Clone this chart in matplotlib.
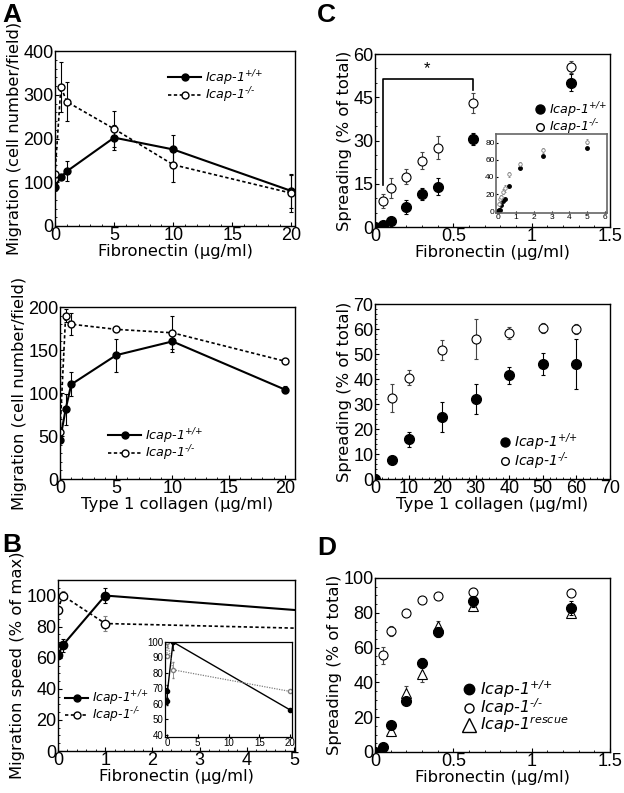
import matplotlib
matplotlib.use("Agg")
import matplotlib.pyplot as plt
from matplotlib.ticker import MultipleLocator, FormatStrFormatter
from matplotlib.lines import Line2D

plt.rcParams['font.family'] = ['Liberation Sans', 'DejaVu Sans']
plt.rcParams['mathtext.fontset'] = 'custom'
plt.rcParams['mathtext.rm'] = 'DejaVu Sans:italic'
plt.rcParams['mathtext.it'] = 'DejaVu Sans:italic'

# ---------------- DATA ----------------
# Panel A top: migration on fibronectin
a1_x = [0, 0.5, 1, 5, 10, 20]
a1_wt = [90, 112, 125, 202, 175, 80]
a1_wt_err = [0, 0, 23, 28, 33, 38]
a1_ko = [120, 318, 284, 222, 140, 75]
a1_ko_err = [0, 57, 45, 42, 40, 42]

# Panel A bottom: migration on collagen
a2_x = [0, 0.5, 1, 5, 10, 20]
a2_wt = [45, 81, 110, 144, 160, 104]
a2_wt_err = [0, 18, 14, 19, 12, 4]
a2_ko = [55, 190, 180, 174, 170, 137]
a2_ko_err = [0, 8, 13, 0, 19, 0]

# Panel B: migration speed (main & inset share data)
b_x = [0, 0.1, 1, 20]
b_wt = [61.5, 68, 100, 56]
b_wt_err = [2, 4, 5, 0]
b_ko = [91, 100, 82, 68]
b_ko_err = [0, 3, 5, 0]

# Panel C top: spreading on fibronectin
c1_x_wt = [0, 0.05, 0.1, 0.2, 0.3, 0.4, 0.625, 1.25]
c1_wt = [0, 0.8, 2, 7, 11.5, 14, 30.5, 50]
c1_wt_err = [0, 0, 0, 2.5, 2, 3, 2, 3]
c1_x_ko = [0.05, 0.1, 0.2, 0.3, 0.4, 0.625, 1.25]
c1_ko = [9, 13.5, 17.5, 23, 27.5, 43, 55.5]
c1_ko_err = [2.5, 3.5, 2.5, 3, 4, 3.5, 2]
# inset C
ci_x_wt = [0, 0.05, 0.1, 0.2, 0.3, 0.4, 0.625, 1.25, 2.5, 5]
ci_wt = [0, 1, 2, 7, 12, 14, 30, 50, 64, 74]
ci_x_ko = [0.05, 0.1, 0.2, 0.3, 0.4, 0.625, 1.25, 2.5, 5]
ci_ko = [9, 14, 17, 23, 27, 43, 55, 71, 81]
ci_ko_err = [2, 3, 2, 3, 4, 3, 2, 3, 3]
c1_sig_x = [0.05, 0.625]
c1_sig_y = [14.5, 51.5, 47.5]

# Panel C bottom: spreading on collagen
c2_x_wt = [0, 5, 10, 20, 30, 40, 50, 60]
c2_wt = [0, 7.5, 16, 25, 32, 41.5, 46, 46]
c2_wt_err = [0, 0, 3, 6, 6, 3.5, 4.5, 10]
c2_x_ko = [5, 10, 20, 30, 40, 50, 60]
c2_ko = [32.5, 40.5, 51.5, 56, 58.5, 60.5, 60]
c2_ko_err = [5.5, 3, 4, 8, 2.5, 2, 2]

# Panel D: spreading with rescue
d_x_wt = [0, 0.05, 0.1, 0.2, 0.3, 0.4, 0.625, 1.25]
d_wt = [0, 2.8, 15.5, 29.5, 51, 69, 86.5, 82.5]
d_wt_err = [0, 0, 2, 1.5, 3, 3, 3, 4]
d_x_ko = [0.05, 0.1, 0.2, 0.3, 0.4, 0.625, 1.25]
d_ko = [55.5, 69.5, 80, 87.5, 89.5, 92, 91.5]
d_ko_err = [5, 3, 2, 1.5, 1.5, 2.5, 2]
d_x_res = [0.1, 0.2, 0.3, 0.4, 0.625, 1.25]
d_res = [12, 34, 45, 72.5, 84, 80]
d_res_err = [3, 4, 5, 3, 3, 2]

LBL_WT = 'Icap-1$^{\\text{+/+}}$'
LBL_KO = 'Icap-1$^{\\text{-/-}}$'
LBL_RES = 'Icap-1$^{\\text{rescue}}$'

W, H = 624, 793
fig = plt.figure(figsize=(W / 100, H / 100), dpi=100)


def add_ax(x0, y0, x1, y1):
    return fig.add_axes([x0 / W, 1 - y1 / H, (x1 - x0) / W, (y1 - y0) / H])


TICK_FS = 13
LAB_FS = 11.8
LEG_FS = 9.2
LAB_FONT = 'DejaVu Sans'
DASH = (0, (2, 1.5))


def style(ax, xmaj, xmin, ymaj, ymin, fmt='%g'):
    ax.xaxis.set_major_locator(MultipleLocator(xmaj))
    ax.xaxis.set_minor_locator(MultipleLocator(xmin))
    ax.yaxis.set_major_locator(MultipleLocator(ymaj))
    ax.yaxis.set_minor_locator(MultipleLocator(ymin))
    ax.xaxis.set_major_formatter(FormatStrFormatter(fmt))
    ax.yaxis.set_major_formatter(FormatStrFormatter('%g'))
    ax.tick_params(which='both', direction='in', top=False, right=False,
                   labelsize=TICK_FS, pad=1)
    ax.tick_params(which='major', length=3, width=0.8)
    ax.tick_params(which='minor', length=1.5, width=0.6)
    for s in ax.spines.values():
        s.set_linewidth(1.0)


def labels(ax, xl, yl):
    ax.set_xlabel(xl, fontsize=LAB_FS, family=LAB_FONT, labelpad=0)
    ax.set_ylabel(yl, fontsize=LAB_FS, family=LAB_FONT, labelpad=1)


def line_leg(ax, anchor, ms=5, hl=2.6, fs=LEG_FS, sp=-0.15):
    hs = [Line2D([], [], color='black', marker='o', ms=ms, lw=1.5, mfc='black'),
          Line2D([], [], color='black', marker='o', ms=ms, lw=1.2, ls=DASH, mfc='white')]
    ax.legend(hs, [LBL_WT, LBL_KO], loc='upper left', bbox_to_anchor=anchor,
              frameon=False, handlelength=hl, labelspacing=sp, handletextpad=0.3,
              borderaxespad=0, borderpad=0,
              prop={'family': LAB_FONT, 'style': 'italic', 'size': fs})


def dot_leg(ax, anchor, fs=LEG_FS, tri=False, ms=6.5, sp=-0.15):
    hs = [Line2D([], [], color='black', marker='o', ms=ms, ls='none', mfc='black'),
          Line2D([], [], color='black', marker='o', ms=ms - 1, ls='none', mfc='white', mew=1)]
    ls = [LBL_WT, LBL_KO]
    if tri:
        hs.append(Line2D([], [], color='black', marker='^', ms=ms + 3, ls='none',
                         mfc='white', mew=1))
        ls.append(LBL_RES)
    ax.legend(hs, ls, loc='upper left', bbox_to_anchor=anchor,
              frameon=False, handlelength=0.8, labelspacing=sp, handletextpad=0.3,
              borderaxespad=0, borderpad=0,
              prop={'family': LAB_FONT, 'style': 'italic', 'size': fs})


eb = dict(capsize=1.5, elinewidth=0.8, capthick=0.8)

# ---------- Panel A top ----------
ax = add_ax(55, 51, 295, 226)
ax.errorbar(a1_x, a1_wt, yerr=a1_wt_err, color='black', marker='o', ms=5,
            lw=1.5, ls='-', mfc='black', **eb)
ax.errorbar(a1_x, a1_ko, yerr=a1_ko_err, color='black', marker='o', ms=5,
            lw=1.2, ls=DASH, mfc='white', **eb)
ax.set_xlim(0, 20.3)
ax.set_ylim(0, 400)
style(ax, 5, 1, 100, 20)
labels(ax, 'Fibronectin (µg/ml)', 'Migration (cell number/field)')
line_leg(ax, (0.471, 0.903))

# ---------- Panel A bottom ----------
ax = add_ax(60, 307, 295, 479)
ax.errorbar(a2_x, a2_wt, yerr=a2_wt_err, color='black', marker='o', ms=5,
            lw=1.5, ls='-', mfc='black', **eb)
ax.errorbar(a2_x, a2_ko, yerr=a2_ko_err, color='black', marker='o', ms=5,
            lw=1.2, ls=DASH, mfc='white', **eb)
ax.set_xlim(0, 20.9)
ax.set_ylim(0, 200)
style(ax, 5, 1, 50, 10)
labels(ax, 'Type 1 collagen (µg/ml)', 'Migration (cell number/field)')
line_leg(ax, (0.204, 0.308))

# ---------- Panel B ----------
ax = add_ax(58, 580, 295, 751)
ax.errorbar(b_x, b_wt, yerr=b_wt_err, color='black', marker='o', ms=6,
            lw=1.5, ls='-', mfc='black', **eb)
ax.errorbar(b_x, b_ko, yerr=b_ko_err, color='black', marker='o', ms=6,
            lw=1.2, ls=DASH, mfc='white', ecolor='gray', **eb)
ax.set_xlim(0, 5.02)
ax.set_ylim(0, 110)
style(ax, 1, 0.2, 20, 5)
labels(ax, 'Fibronectin (µg/ml)', 'Migration speed (% of max)')
line_leg(ax, (0.03, 0.368), ms=5, hl=1.9, fs=8.8)

# inset B
axi = add_ax(165, 642, 292, 737)
axi.errorbar(b_x, b_wt, yerr=b_wt_err, color='black', marker='o', ms=3,
             lw=1.0, ls='-', mfc='black', capsize=1, elinewidth=0.6)
axi.errorbar(b_x, b_ko, yerr=b_ko_err, color='gray', marker='o', ms=3,
             lw=0.9, ls=(0, (1, 1)), mfc='white', capsize=1, elinewidth=0.6)
axi.set_xlim(-0.3, 20.3)
axi.set_ylim(38.5, 100)
axi.xaxis.set_major_locator(MultipleLocator(5))
axi.yaxis.set_major_locator(MultipleLocator(10))
axi.tick_params(direction='in', length=2, labelsize=7, pad=1)
for s in axi.spines.values():
    s.set_linewidth(0.9)

# ---------- Panel C top ----------
ax = add_ax(375, 54, 610, 227)
ax.errorbar(c1_x_wt, c1_wt, yerr=c1_wt_err, color='black', marker='o', ms=7,
            ls='none', mfc='black', **eb)
ax.errorbar(c1_x_ko, c1_ko, yerr=c1_ko_err, color='black', marker='o', ms=6.5,
            ls='none', mfc='white', mew=0.8, ecolor='#444444', **eb)
ax.plot([c1_sig_x[0], c1_sig_x[0], c1_sig_x[1], c1_sig_x[1]],
        [c1_sig_y[0], c1_sig_y[1], c1_sig_y[1], c1_sig_y[2]], color='black', lw=1.2)
ax.text(sum(c1_sig_x) / 2 - 0.005, c1_sig_y[1] + 0.8, '*', ha='center', va='bottom',
        fontsize=12)
ax.set_xlim(0, 1.5)
ax.set_ylim(0, 60)
style(ax, 0.5, 0.1, 15, 5)
labels(ax, 'Fibronectin (µg/ml)', 'Spreading (% of total)')
dot_leg(ax, (0.681, 0.734), ms=6.5)

# inset C
axi = add_ax(496, 134, 607, 213)
axi.plot(ci_x_wt, ci_wt, 'o', color='black', ms=2.5)
axi.errorbar(ci_x_ko, ci_ko, yerr=ci_ko_err, fmt='o', color='gray', ms=2.5, mfc='white',
             mew=0.6, capsize=0.8, elinewidth=0.5)
axi.set_xlim(-0.1, 6.1)
axi.set_ylim(-2, 90)
axi.xaxis.set_major_locator(MultipleLocator(1))
axi.yaxis.set_major_locator(MultipleLocator(20))
axi.tick_params(direction='in', length=1.5, labelsize=6, pad=1)
for s in axi.spines.values():
    s.set_linewidth(1.2)
    s.set_color('#666666')

# ---------- Panel C bottom ----------
ax = add_ax(375, 304, 610, 479)
ax.errorbar(c2_x_wt, c2_wt, yerr=c2_wt_err, color='black', marker='o', ms=7,
            ls='none', mfc='black', **eb)
ax.errorbar(c2_x_ko, c2_ko, yerr=c2_ko_err, color='black', marker='o', ms=6.5,
            ls='none', mfc='white', mew=0.8, ecolor='#444444', **eb)
ax.set_xlim(0, 70)
ax.set_ylim(0, 70)
style(ax, 10, 2, 10, 2)
labels(ax, 'Type 1 collagen (µg/ml)', 'Spreading (% of total)')
dot_leg(ax, (0.528, 0.274), fs=10, ms=6.5)

# ---------- Panel D ----------
ax = add_ax(375, 578, 610, 752)
ax.errorbar(d_x_wt, d_wt, yerr=d_wt_err, color='black', marker='o', ms=7,
            ls='none', mfc='black', zorder=3, **eb)
ax.errorbar(d_x_ko, d_ko, yerr=d_ko_err, color='black', marker='o', ms=6.5,
            ls='none', mfc='white', mew=0.8, ecolor='#444444', **eb)
ax.errorbar(d_x_res, d_res, yerr=d_res_err, color='black', marker='^', ms=6.5,
            ls='none', mfc='white', mew=0.8, ecolor='#444444', zorder=2, **eb)
ax.set_xlim(0, 1.5)
ax.set_ylim(0, 100)
style(ax, 0.5, 0.1, 20, 5)
labels(ax, 'Fibronectin (µg/ml)', 'Spreading (% of total)')
dot_leg(ax, (0.374, 0.425), fs=11.5, tri=True, ms=7.5, sp=-0.2)

# panel letters
for txt, x, y in [('A', 2, 3), ('B', 2, 533), ('C', 317, 3), ('D', 317, 536)]:
    fig.text(x / W, 1 - y / H, txt, fontsize=19, fontweight='heavy', va='top', ha='left',
             family='Liberation Sans')

fig.savefig('out.png', dpi=100)
